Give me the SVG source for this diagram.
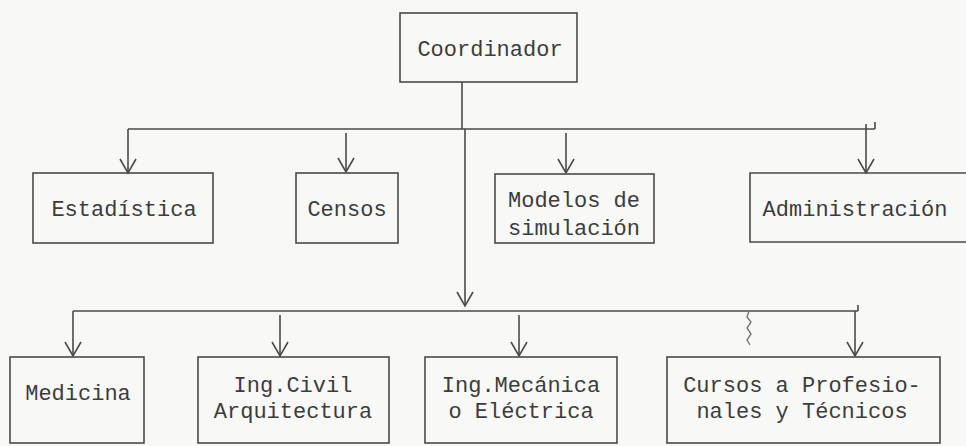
<svg xmlns="http://www.w3.org/2000/svg" width="966" height="446" viewBox="0 0 966 446">
<defs>
<style>
.box{fill:none;stroke:#4a4a4a;stroke-width:1.6}
.ln{fill:none;stroke:#4a4a4a;stroke-width:1.6}
.t{font-family:"Liberation Mono","DejaVu Sans Mono",monospace;font-size:22px;fill:#3c3c3c;text-anchor:middle}
</style>
<marker id="arr" markerWidth="18" markerHeight="20" viewBox="-16 -10 18 20" refX="0" refY="0" orient="auto" markerUnits="userSpaceOnUse">
<polyline points="-14,-8 0,0 -14,8" fill="none" stroke="#4a4a4a" stroke-width="1.6"/>
</marker>
</defs>
<rect width="966" height="446" fill="#f8f8f6"/>
<g id="connectors">
<line class="ln" x1="462" y1="82" x2="462" y2="129"/>
<line class="ln" x1="128" y1="129" x2="875" y2="129"/>
<line class="ln" x1="875" y1="122" x2="875" y2="129"/>
<path class="ln" d="M128 129 V173" marker-end="url(#arr)"/>
<path class="ln" d="M346 133 V172" marker-end="url(#arr)"/>
<path class="ln" d="M566 133 V173" marker-end="url(#arr)"/>
<path class="ln" d="M866 124 V173" marker-end="url(#arr)"/>
<path class="ln" d="M465 129 V306" marker-end="url(#arr)"/>
<line class="ln" x1="73" y1="311" x2="858" y2="311"/>
<line class="ln" x1="858" y1="311" x2="858" y2="305"/>
<path class="ln" d="M73 311 V356" marker-end="url(#arr)"/>
<path class="ln" d="M280 315 V356" marker-end="url(#arr)"/>
<path class="ln" d="M519 315 V356" marker-end="url(#arr)"/>
<path class="ln" d="M855 311 V356" marker-end="url(#arr)"/>
<path d="M749 311 l-2 6 l4 5 l-4 6 l4 6 l-4 6 l3 5" fill="none" stroke="#777" stroke-width="1.4"/>
</g>
<g id="coordinador">
<rect class="box" x="400" y="13" width="177" height="69"/>
<text class="t" x="490" y="56">Coordinador</text>
</g>
<g id="estadistica">
<rect class="box" x="33" y="173" width="180" height="70"/>
<text class="t" x="124" y="216">Estadística</text>
</g>
<g id="censos">
<rect class="box" x="296" y="173" width="102" height="70"/>
<text class="t" x="347" y="216">Censos</text>
</g>
<g id="modelos">
<rect class="box" x="495" y="174" width="159" height="69"/>
<text class="t" x="574" y="207">Modelos de</text>
<text class="t" x="574" y="235">simulación</text>
</g>
<g id="administracion">
<path class="box" d="M970 173 H750 V242 H970"/>
<text class="t" x="855" y="216">Administración</text>
</g>
<g id="medicina">
<rect class="box" x="10" y="357" width="134" height="86"/>
<text class="t" x="78" y="400">Medicina</text>
</g>
<g id="ingcivil">
<rect class="box" x="198" y="357" width="191" height="86"/>
<text class="t" x="293" y="392">Ing.Civil</text>
<text class="t" x="293" y="418">Arquitectura</text>
</g>
<g id="ingmecanica">
<rect class="box" x="425" y="357" width="192" height="86"/>
<text class="t" x="521" y="392">Ing.Mecánica</text>
<text class="t" x="521" y="418">o Eléctrica</text>
</g>
<g id="cursos">
<rect class="box" x="667" y="357" width="273" height="86"/>
<text class="t" x="802" y="392">Cursos a Profesio-</text>
<text class="t" x="802" y="418">nales y Técnicos</text>
</g>
</svg>
